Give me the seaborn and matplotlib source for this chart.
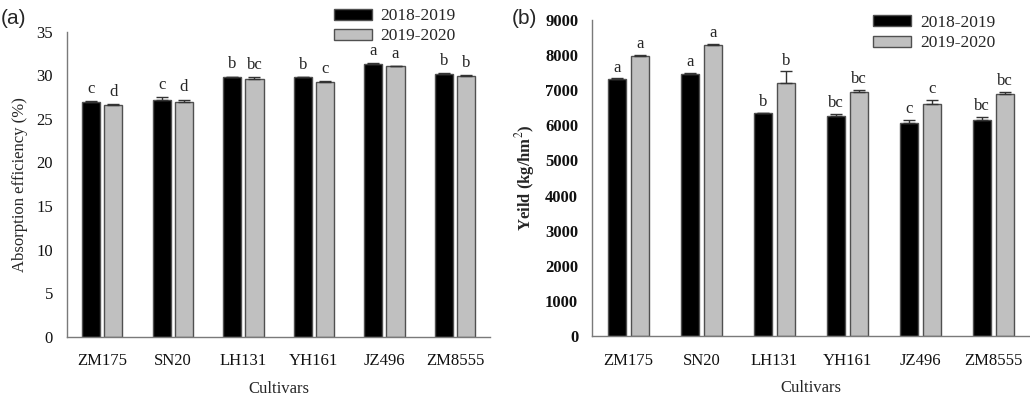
import numpy as np
import pandas as pd
import matplotlib
matplotlib.use("Agg")
import matplotlib.pyplot as plt
import seaborn as sns

# Cultivars and growing seasons
cultivars = ["ZM175", "SN20", "LH131", "YH161", "JZ496", "ZM8555"]
seasons = ["2018-2019", "2019-2020"]

# (a) Absorption efficiency (%)
absorb_1819 = [26.9, 27.2, 29.8, 29.75, 31.3, 30.15]
absorb_1920 = [26.6, 26.9, 29.6, 29.2, 31.0, 29.9]
absorb_err_1819 = [0.10, 0.30, 0.05, 0.08, 0.08, 0.08]
absorb_err_1920 = [0.08, 0.30, 0.22, 0.10, 0.06, 0.08]
absorb_sig_1819 = ["c", "c", "b", "b", "a", "b"]
absorb_sig_1920 = ["d", "d", "bc", "c", "a", "b"]

# (b) Yield (kg/hm2)
yield_1819 = [7320, 7460, 6345, 6255, 6055, 6165]
yield_1920 = [7965, 8290, 7215, 6960, 6600, 6890]
yield_err_1819 = [20, 30, 20, 70, 110, 70]
yield_err_1920 = [50, 25, 320, 40, 120, 70]
yield_sig_1819 = ["a", "a", "b", "bc", "c", "bc"]
yield_sig_1920 = ["a", "a", "b", "bc", "c", "bc"]

SPINE = "#7a7a7a"
PALETTE = {seasons[0]: "#000000", seasons[1]: "#c0c0c0"}


def long_frame(v1, v2):
    return pd.DataFrame({
        "Cultivar": cultivars * 2,
        "Season": [seasons[0]] * len(cultivars) + [seasons[1]] * len(cultivars),
        "Value": list(v1) + list(v2),
    })


def draw_panel(ax, v1, v2, e1, e2, s1, s2, ylim, yticks, ylabel,
               letter_pad, bold_y=False):
    df = long_frame(v1, v2)
    sns.barplot(data=df, x="Cultivar", y="Value", hue="Season",
                order=cultivars, hue_order=seasons, palette=PALETTE,
                width=0.63, gap=0.18, edgecolor="#505050", linewidth=1.0,
                errorbar=None, legend=True, ax=ax)

    for container, vals, errs, sigs in zip(ax.containers, (v1, v2), (e1, e2), (s1, s2)):
        xs = [b.get_x() + b.get_width() / 2 for b in container]
        ax.errorbar(xs, vals, yerr=[np.zeros(len(errs)), errs], fmt="none",
                    ecolor="#333333", elinewidth=1.0, capsize=4, capthick=1.0,
                    zorder=3)
        for x, v, e, s in zip(xs, vals, errs, sigs):
            ax.annotate(s, (x, v + e), xytext=(0, letter_pad),
                        textcoords="offset points", ha="center", va="bottom",
                        fontsize=12)

    ax.set_xlim(-0.5, 5.5)
    ax.set_ylim(*ylim)
    ax.set_yticks(yticks)
    ax.set_xlabel("Cultivars", fontsize=12, labelpad=8)
    ax.set_ylabel(ylabel, fontsize=12,
                  fontweight="bold" if bold_y else "normal", labelpad=6)
    for side in ("top", "right"):
        ax.spines[side].set_visible(False)
    for side in ("left", "bottom"):
        ax.spines[side].set_color(SPINE)
        ax.spines[side].set_linewidth(1.0)
    ax.tick_params(axis="both", colors=SPINE, labelcolor="#111111",
                   direction="out", length=4, width=1.0, labelsize=12)
    ax.tick_params(axis="x", pad=8)
    ax.tick_params(axis="y", pad=6)
    if bold_y:
        for t in ax.get_yticklabels():
            t.set_fontweight("bold")
    ax.grid(False)


sns.set_style("white")
plt.rcParams["font.family"] = ["Liberation Serif", "DejaVu Serif"]
plt.rcParams["mathtext.fontset"] = "stix"

fig = plt.figure(figsize=(10.3, 4.0), dpi=100)
ax1 = fig.add_axes([0.065, 0.158, 0.411, 0.763])
ax2 = fig.add_axes([0.5748, 0.16, 0.4252, 0.79])

draw_panel(ax1, absorb_1819, absorb_1920, absorb_err_1819, absorb_err_1920,
           absorb_sig_1819, absorb_sig_1920, (0, 35), np.arange(0, 36, 5),
           "Absorption efficiency (%)", letter_pad=3)
draw_panel(ax2, yield_1819, yield_1920, yield_err_1819, yield_err_1920,
           yield_sig_1819, yield_sig_1920, (0, 9000), np.arange(0, 9001, 1000),
           r"Yeild (kg/hm$^{2}$)", letter_pad=2, bold_y=True)

for ax, anchor in ((ax1, (0.312, 1.01)), (ax2, (0.836, 0.993))):
    handles, labels = ax.get_legend_handles_labels()
    ax.legend(handles, labels, loc="upper left", bbox_to_anchor=anchor,
              bbox_transform=fig.transFigure, frameon=False, fontsize=12.5,
              handlelength=2.2, handleheight=0.6, handletextpad=0.5,
              labelspacing=0.25, borderpad=0.2)

fig.text(0.001, 0.955, "(a)", fontsize=15, family="Liberation Sans",
         ha="left", va="center")
fig.text(0.497, 0.955, "(b)", fontsize=15, family="Liberation Sans",
         ha="left", va="center")

fig.savefig("out.png", dpi=100, facecolor="white")
